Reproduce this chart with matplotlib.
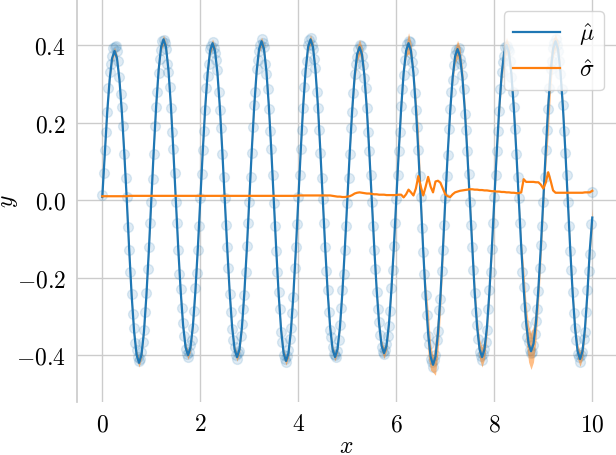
import numpy as np
import matplotlib
matplotlib.use("Agg")
import matplotlib.pyplot as plt

# ---------------- data ----------------
# prediction grid: x from 0 to 10 in steps of 0.05
x_start, x_stop, x_step = 0.0, 10.0, 0.05

mu_hat = [
    0.008, 0.119, 0.226, 0.311, 0.366, 0.385, 0.366, 0.311, 0.226, 0.119, 0.000, -0.130, -0.247, -0.340, -0.399, -0.420, -0.399, -0.340, -0.247, -0.130,
    0.000, 0.128, 0.244, 0.336, 0.395, 0.415, 0.395, 0.336, 0.244, 0.128, 0.000, -0.124, -0.235, -0.324, -0.380, -0.400, -0.380, -0.324, -0.235, -0.124,
    0.000, 0.125, 0.238, 0.328, 0.385, 0.405, 0.385, 0.328, 0.238, 0.125, 0.000, -0.125, -0.238, -0.328, -0.385, -0.405, -0.385, -0.328, -0.238, -0.125,
    0.000, 0.127, 0.241, 0.332, 0.390, 0.410, 0.390, 0.332, 0.241, 0.127, 0.000, -0.128, -0.244, -0.336, -0.395, -0.415, -0.395, -0.336, -0.244, -0.128,
    0.000, 0.128, 0.244, 0.336, 0.395, 0.415, 0.395, 0.336, 0.244, 0.128, 0.000, -0.125, -0.238, -0.328, -0.385, -0.405, -0.385, -0.328, -0.238, -0.125,
    0.000, 0.122, 0.232, 0.320, 0.376, 0.395, 0.376, 0.320, 0.232, 0.122, 0.000, -0.122, -0.232, -0.320, -0.376, -0.395, -0.376, -0.320, -0.232, -0.122,
    0.000, 0.125, 0.238, 0.328, 0.385, 0.405, 0.385, 0.328, 0.238, 0.125, 0.000, -0.131, -0.250, -0.344, -0.404, -0.425, -0.404, -0.344, -0.250, -0.131,
    0.000, 0.121, 0.229, 0.316, 0.371, 0.390, 0.371, 0.316, 0.229, 0.121, 0.000, -0.125, -0.238, -0.328, -0.385, -0.405, -0.385, -0.328, -0.238, -0.125,
    0.000, 0.124, 0.235, 0.324, 0.380, 0.400, 0.380, 0.324, 0.235, 0.124, 0.000, -0.121, -0.229, -0.316, -0.371, -0.390, -0.371, -0.316, -0.229, -0.121,
    0.000, 0.127, 0.241, 0.332, 0.390, 0.410, 0.390, 0.332, 0.241, 0.127, 0.000, -0.127, -0.241, -0.332, -0.390, -0.410, -0.390, -0.332, -0.241, -0.127,
    -0.045,
]

sigma_hat = [
    0.010, 0.010, 0.010, 0.010, 0.010, 0.010, 0.010, 0.010, 0.010, 0.010, 0.010, 0.011, 0.011, 0.011, 0.011, 0.011, 0.011, 0.011, 0.011, 0.011,
    0.011, 0.011, 0.011, 0.011, 0.011, 0.011, 0.011, 0.011, 0.011, 0.011, 0.011, 0.011, 0.011, 0.011, 0.011, 0.011, 0.011, 0.011, 0.011, 0.011,
    0.011, 0.011, 0.011, 0.011, 0.011, 0.011, 0.011, 0.011, 0.011, 0.011, 0.011, 0.011, 0.011, 0.011, 0.011, 0.011, 0.011, 0.011, 0.011, 0.011,
    0.011, 0.011, 0.011, 0.011, 0.011, 0.011, 0.011, 0.011, 0.011, 0.011, 0.011, 0.011, 0.011, 0.011, 0.011, 0.011, 0.011, 0.011, 0.011, 0.011,
    0.012, 0.012, 0.012, 0.012, 0.012, 0.012, 0.012, 0.012, 0.012, 0.012, 0.012, 0.012, 0.012, 0.012, 0.011, 0.010, 0.009, 0.009, 0.008, 0.008,
    0.009, 0.010, 0.013, 0.017, 0.019, 0.020, 0.019, 0.018, 0.017, 0.017, 0.016, 0.015, 0.015, 0.014, 0.014, 0.014, 0.013, 0.013, 0.013, 0.013,
    0.013, 0.014, 0.014, 0.007, 0.015, 0.027, 0.020, 0.012, 0.030, 0.062, 0.035, 0.012, 0.035, 0.060, 0.035, 0.020, 0.048, 0.050, 0.045, 0.030,
    0.015, 0.010, 0.008, 0.015, 0.020, 0.022, 0.024, 0.025, 0.026, 0.027, 0.028, 0.028, 0.027, 0.027, 0.026, 0.026, 0.025, 0.025, 0.024, 0.023,
    0.023, 0.022, 0.022, 0.021, 0.021, 0.020, 0.020, 0.019, 0.019, 0.018, 0.018, 0.020, 0.054, 0.047, 0.047, 0.047, 0.047, 0.046, 0.046, 0.040,
    0.030, 0.045, 0.072, 0.050, 0.025, 0.019, 0.019, 0.019, 0.019, 0.019, 0.019, 0.019, 0.019, 0.019, 0.019, 0.019, 0.019, 0.020, 0.020, 0.020,
    0.024,
]

# noisy observations: one set on the grid points, one set at grid mid-points
obs_grid_y = [
    0.012, 0.130, 0.228, 0.330, 0.372, 0.395, 0.385, 0.318, 0.240, 0.118, 0.008, -0.130, -0.242, -0.330, -0.388, -0.415, -0.392, -0.335, -0.240, -0.120,
    -0.006, 0.118, 0.240, 0.328, 0.388, 0.412, 0.390, 0.330, 0.238, 0.132, -0.004, -0.128, -0.230, -0.318, -0.385, -0.405, -0.375, -0.330, -0.228, -0.130,
    0.006, 0.130, 0.232, 0.320, 0.390, 0.408, 0.380, 0.335, 0.232, 0.120, 0.006, -0.120, -0.242, -0.332, -0.380, -0.410, -0.390, -0.320, -0.245, -0.118,
    -0.004, 0.122, 0.245, 0.338, 0.385, 0.415, 0.395, 0.325, 0.235, 0.132, -0.008, -0.132, -0.238, -0.340, -0.400, -0.418, -0.388, -0.330, -0.250, -0.122,
    0.008, 0.132, 0.238, 0.330, 0.400, 0.418, 0.390, 0.340, 0.238, 0.122, 0.004, -0.120, -0.232, -0.335, -0.380, -0.400, -0.390, -0.322, -0.232, -0.130,
    -0.008, 0.118, 0.228, 0.325, 0.370, 0.400, 0.372, 0.315, 0.238, 0.126, -0.006, -0.128, -0.238, -0.315, -0.380, -0.398, -0.372, -0.325, -0.228, -0.118,
    0.004, 0.128, 0.242, 0.322, 0.390, 0.410, 0.380, 0.332, 0.232, 0.130, 0.008, -0.135, -0.245, -0.350, -0.410, -0.430, -0.400, -0.338, -0.255, -0.128,
    0.006, 0.116, 0.235, 0.310, 0.375, 0.385, 0.365, 0.322, 0.222, 0.126, -0.004, -0.120, -0.240, -0.322, -0.392, -0.412, -0.385, -0.335, -0.232, -0.126,
    0.008, 0.128, 0.230, 0.330, 0.372, 0.398, 0.385, 0.318, 0.240, 0.118, 0.006, -0.126, -0.225, -0.322, -0.365, -0.395, -0.375, -0.312, -0.235, -0.116,
    -0.006, 0.130, 0.236, 0.338, 0.392, 0.415, 0.385, 0.326, 0.245, 0.122, -0.004, -0.132, -0.236, -0.330, -0.398, -0.418, -0.392, -0.340, -0.232, -0.140,
    0.022,
]

obs_mid_y = [
    0.070, 0.175, 0.290, 0.350, 0.392, 0.398, 0.360, 0.275, 0.190, 0.058, -0.070, -0.186, -0.295, -0.368, -0.405, -0.410, -0.365, -0.290, -0.178, -0.060,
    0.055, 0.190, 0.280, 0.365, 0.410, 0.405, 0.350, 0.292, 0.175, 0.070, -0.058, -0.190, -0.278, -0.350, -0.398, -0.392, -0.360, -0.285, -0.188, -0.066,
    0.068, 0.178, 0.290, 0.352, 0.398, 0.392, 0.362, 0.278, 0.186, 0.060, -0.065, -0.176, -0.290, -0.360, -0.400, -0.395, -0.350, -0.280, -0.185, -0.058,
    0.060, 0.188, 0.278, 0.362, 0.400, 0.405, 0.352, 0.288, 0.178, 0.065, -0.068, -0.185, -0.282, -0.365, -0.410, -0.402, -0.358, -0.292, -0.176, -0.062,
    0.066, 0.180, 0.292, 0.358, 0.412, 0.400, 0.365, 0.280, 0.182, 0.058, -0.060, -0.182, -0.288, -0.352, -0.398, -0.405, -0.362, -0.278, -0.190, -0.068,
    0.058, 0.186, 0.276, 0.350, 0.390, 0.398, 0.348, 0.290, 0.176, 0.066, -0.066, -0.178, -0.282, -0.348, -0.392, -0.388, -0.350, -0.286, -0.180, -0.060,
    0.064, 0.176, 0.286, 0.362, 0.402, 0.408, 0.356, 0.276, 0.188, 0.062, -0.072, -0.190, -0.296, -0.372, -0.418, -0.412, -0.360, -0.284, -0.182, -0.064,
    0.062, 0.184, 0.280, 0.348, 0.388, 0.392, 0.350, 0.286, 0.180, 0.068, -0.064, -0.180, -0.290, -0.358, -0.402, -0.398, -0.365, -0.280, -0.186, -0.058,
    0.066, 0.178, 0.288, 0.356, 0.396, 0.390, 0.358, 0.278, 0.184, 0.060, -0.060, -0.185, -0.276, -0.352, -0.388, -0.392, -0.345, -0.282, -0.176, -0.066,
    0.060, 0.182, 0.290, 0.360, 0.405, 0.400, 0.360, 0.286, 0.178, 0.064, -0.066, -0.180, -0.292, -0.362, -0.405, -0.400, -0.358, -0.290, -0.182, -0.062,
]

x_ticks = [0, 2, 4, 6, 8, 10]
y_ticks = [-0.4, -0.2, 0.0, 0.2, 0.4]
labels = [r"$\hat{\mu}$", r"$\hat{\sigma}$"]

# ---------------- style ----------------
plt.rcParams.update({
    "font.family": "serif",
    "font.serif": ["cmr10", "DejaVu Serif"],
    "mathtext.fontset": "cm",
    "axes.formatter.use_mathtext": True,
    "axes.unicode_minus": True,
    "font.size": 17,
})

n = len(mu_hat)
x_grid = np.round(x_start + x_step * np.arange(n), 3)
x_mid = x_grid[:-1] + x_step / 2
mu = np.array(mu_hat)
sig = np.array(sigma_hat)

fig = plt.figure(figsize=(6.16, 4.56), dpi=100)
ax = fig.add_axes([77 / 616, 53 / 456, 539 / 616, 403 / 456])

c0, c1 = "#1f77b4", "#ff7f0e"
ax.scatter(x_grid, obs_grid_y, s=50, color=c0, alpha=0.14, linewidths=1, zorder=2)
ax.scatter(x_mid, obs_mid_y, s=50, color=c0, alpha=0.14, linewidths=1, zorder=2)
ax.fill_between(x_grid, mu - sig, mu + sig, color=c1, alpha=0.5, linewidth=0, zorder=3)
ax.plot(x_grid, mu, color=c0, lw=1.6, label=labels[0], zorder=4)
ax.plot(x_grid, sig, color=c1, lw=1.6, label=labels[1], zorder=4)

ax.set_xlim(-0.516, 10.484)
ax.set_ylim(-0.521, 0.519)
ax.set_xticks(x_ticks)
ax.set_yticks(y_ticks)
ax.grid(True, color="0.8", lw=1)
ax.set_axisbelow(True)
ax.tick_params(length=0, pad=8, labelsize=17)
for s in ["top", "right", "bottom"]:
    ax.spines[s].set_visible(False)
ax.spines["left"].set_color("0.8")
ax.spines["left"].set_linewidth(1.25)

ax.set_xlabel(r"$x$", fontsize=17, labelpad=0)
ax.set_ylabel(r"$y$", fontsize=17, va="center")
ax.yaxis.set_label_coords(-0.126, 0.5)

leg = ax.legend(loc="upper right", fontsize=17, frameon=True, framealpha=0.8,
                edgecolor="0.8", fancybox=True, borderaxespad=0.5)

fig.savefig("out.png", dpi=100)
